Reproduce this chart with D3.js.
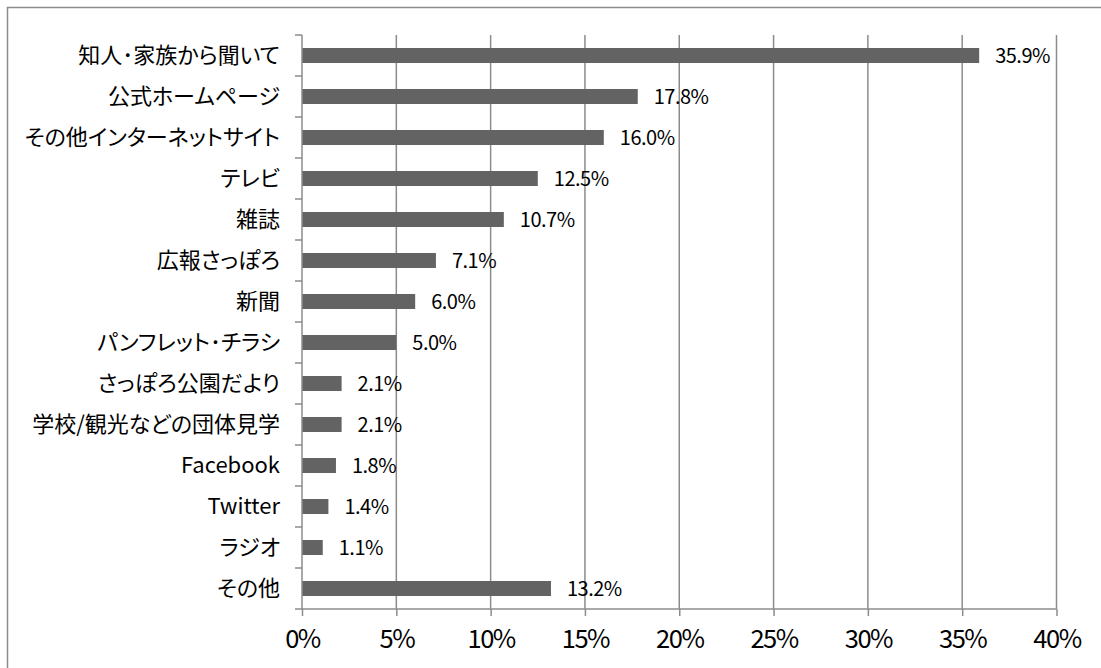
<!DOCTYPE html>
<html><head><meta charset="utf-8">
<script src="https://cdn.jsdelivr.net/npm/d3@7"></script>
<style>body{margin:0;background:#fff}svg{display:block}.cat{font-feature-settings:"palt"}</style>
</head><body>
<script>
const categories = ["知人･家族から聞いて","公式ホームページ","その他インターネットサイト","テレビ","雑誌","広報さっぽろ","新聞","パンフレット･チラシ","さっぽろ公園だより","学校/観光などの団体見学","Facebook","Twitter","ラジオ","その他"];
const values = [35.9,17.8,16.0,12.5,10.7,7.1,6.0,5.0,2.1,2.1,1.8,1.4,1.1,13.2];
const tickValues = [0,5,10,15,20,25,30,35,40];
const tickLabels = ["0%","5%","10%","15%","20%","25%","30%","35%","40%"];

const W = 1101, H = 668;
const svg = d3.select("body").append("svg").attr("width", W).attr("height", H);
const font = "'Noto Sans CJK JP','Noto Sans',sans-serif";
const gray = "#8c8c8c";

svg.append("rect").attr("x",7.5).attr("y",7.5).attr("width",1100).attr("height",680)
  .attr("fill","none").attr("stroke",gray).attr("stroke-width",1.5);

const x0 = 302, x1 = 1056.5, yTop = 35, yBot = 609;
const x = d3.scaleLinear().domain([0,40]).range([x0,x1]);
const y = d3.scaleBand().domain(categories).range([yTop,yBot]).paddingInner(0.634).paddingOuter(0.317);
const yb = d3.scaleBand().domain(categories).range([yTop,yBot]);

// gridlines
svg.append("g").selectAll("line").data(tickValues.slice(1)).join("line")
  .attr("x1",d=>x(d)).attr("x2",d=>x(d)).attr("y1",yTop).attr("y2",yBot)
  .attr("stroke",gray).attr("stroke-width",1.5);

// bars
svg.append("g").selectAll("rect").data(values).join("rect")
  .attr("x",x(0)).attr("y",(d,i)=>y(categories[i]))
  .attr("width",d=>x(d)-x(0)).attr("height",y.bandwidth())
  .attr("fill","#636363");

// x axis
const xAxis = d3.axisBottom(x).tickValues(tickValues).tickSize(7).tickFormat((d,i)=>tickLabels[i]);
const gx = svg.append("g").attr("transform",`translate(0,${yBot})`).call(xAxis);
gx.select(".domain").attr("stroke",gray).attr("stroke-width",1.5).attr("d",`M${x0},0H${x1}`);
gx.selectAll(".tick line").attr("stroke",gray).attr("stroke-width",1.5);
gx.selectAll(".tick text").attr("fill","#000").attr("font-family",font).attr("font-size",25.5)
  .attr("letter-spacing",-1.5).attr("y",21).attr("dy","0.71em");

// y axis
const gy = svg.append("g").attr("transform",`translate(${x0},0)`);
gy.append("line").attr("x1",0).attr("x2",0).attr("y1",yTop).attr("y2",yBot).attr("stroke",gray).attr("stroke-width",1.5);
const bounds = categories.map(c=>yb(c)).concat([yBot]);
gy.selectAll("line.t").data(bounds).join("line").attr("class","t")
  .attr("x1",-7).attr("x2",0).attr("y1",d=>d).attr("y2",d=>d).attr("stroke",gray).attr("stroke-width",1.5);
gy.selectAll("text").data(categories).join("text").attr("class","cat")
  .attr("x",-22).attr("y",d=>yb(d)+yb.bandwidth()/2)
  .attr("dy","0.35em").attr("text-anchor","end")
  .attr("font-family",font).attr("font-size",22).attr("letter-spacing",0).attr("fill","#000").text(d=>d);

// value labels
svg.append("g").selectAll("text").data(values).join("text")
  .attr("x",d=>x(d)+16).attr("y",(d,i)=>yb(categories[i])+yb.bandwidth()/2)
  .attr("dy","0.35em").attr("font-family",font).attr("font-size",20).attr("letter-spacing",-0.5)
  .attr("fill","#000").text(d=>d.toFixed(1)+"%");
</script>
</body></html>
